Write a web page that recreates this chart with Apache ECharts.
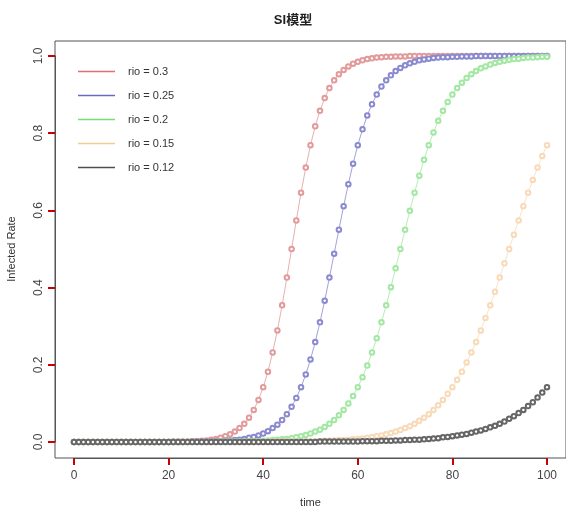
<!DOCTYPE html>
<html>
<head>
<meta charset="utf-8">
<script src="https://cdn.jsdelivr.net/npm/echarts@6/dist/echarts.min.js"></script>
<style>
  html, body { margin: 0; padding: 0; background: #fff; }
  #chart { width: 566px; height: 506px; }
</style>
</head>
<body>
<div id="chart"></div>
<script>
// time steps
const time = [
  0, 1, 2, 3, 4, 5, 6, 7, 8, 9, 10, 11, 12, 13, 14, 15, 16, 17, 18, 19,
  20, 21, 22, 23, 24, 25, 26, 27, 28, 29, 30, 31, 32, 33, 34, 35, 36, 37, 38, 39,
  40, 41, 42, 43, 44, 45, 46, 47, 48, 49, 50, 51, 52, 53, 54, 55, 56, 57, 58, 59,
  60, 61, 62, 63, 64, 65, 66, 67, 68, 69, 70, 71, 72, 73, 74, 75, 76, 77, 78, 79,
  80, 81, 82, 83, 84, 85, 86, 87, 88, 89, 90, 91, 92, 93, 94, 95, 96, 97, 98, 99,
  100
];

// rio = 0.3
const rio30 = [
  0, 0, 0, 0, 0, 0, 0, 0, 0, 0, 0, 0, 0, 0, 0, 0, 0, 0, 0, 0,
  0, 0.001, 0.001, 0.001, 0.001, 0.002, 0.002, 0.003, 0.004, 0.006,
  0.008, 0.011, 0.015, 0.020, 0.027, 0.036, 0.047, 0.063, 0.083, 0.109,
  0.142, 0.182, 0.232, 0.289, 0.354, 0.426, 0.500, 0.574, 0.646, 0.711,
  0.769, 0.818, 0.858, 0.891, 0.917, 0.937, 0.953, 0.964, 0.973, 0.980,
  0.985, 0.989, 0.992, 0.994, 0.996, 0.997, 0.998, 0.998, 0.999, 0.999,
  0.999, 1, 1, 1, 1, 1, 1, 1, 1, 1,
  1, 1, 1, 1, 1, 1, 1, 1, 1, 1,
  1, 1, 1, 1, 1, 1, 1, 1, 1, 1,
  1
];

// rio = 0.25
const rio25 = [
  0, 0, 0, 0, 0, 0, 0, 0, 0, 0, 0, 0, 0, 0, 0, 0, 0, 0, 0, 0,
  0, 0, 0, 0, 0, 0.001, 0.001, 0.001, 0.001, 0.001,
  0.002, 0.002, 0.003, 0.004, 0.005, 0.006, 0.008, 0.011, 0.013, 0.017,
  0.022, 0.028, 0.036, 0.045, 0.057, 0.072, 0.091, 0.114, 0.142, 0.175,
  0.214, 0.259, 0.310, 0.366, 0.426, 0.488, 0.550, 0.611, 0.668, 0.721,
  0.769, 0.810, 0.846, 0.875, 0.900, 0.921, 0.937, 0.950, 0.961, 0.969,
  0.976, 0.981, 0.985, 0.989, 0.991, 0.993, 0.995, 0.996, 0.997, 0.997,
  0.998, 0.998, 0.999, 0.999, 0.999, 1, 1, 1, 1, 1,
  1, 1, 1, 1, 1, 1, 1, 1, 1, 1,
  1
];

// rio = 0.2
const rio20 = [
  0, 0, 0, 0, 0, 0, 0, 0, 0, 0, 0, 0, 0, 0, 0, 0, 0, 0, 0, 0,
  0, 0, 0, 0, 0, 0, 0, 0, 0, 0,
  0, 0.001, 0.001, 0.001, 0.001, 0.001, 0.001, 0.002, 0.002, 0.002,
  0.003, 0.004, 0.005, 0.006, 0.007, 0.008, 0.010, 0.012, 0.015, 0.018,
  0.022, 0.027, 0.032, 0.039, 0.047, 0.057, 0.069, 0.083, 0.100, 0.119,
  0.142, 0.168, 0.198, 0.232, 0.269, 0.310, 0.354, 0.401, 0.450, 0.500,
  0.550, 0.599, 0.646, 0.690, 0.731, 0.769, 0.802, 0.832, 0.858, 0.881,
  0.900, 0.917, 0.931, 0.943, 0.953, 0.961, 0.968, 0.973, 0.978, 0.982,
  0.985, 0.988, 0.990, 0.992, 0.993, 0.995, 0.996, 0.996, 0.997, 0.998,
  0.998
];

// rio = 0.15
const rio15 = [
  0, 0, 0, 0, 0, 0, 0, 0, 0, 0, 0, 0, 0, 0, 0, 0, 0, 0, 0, 0,
  0, 0, 0, 0, 0, 0, 0, 0, 0, 0, 0, 0, 0, 0, 0, 0, 0, 0, 0, 0,
  0, 0.001, 0.001, 0.001, 0.001, 0.001, 0.001, 0.001, 0.001, 0.002,
  0.002, 0.002, 0.002, 0.003, 0.003, 0.004, 0.005, 0.005, 0.006, 0.007,
  0.008, 0.009, 0.011, 0.013, 0.015, 0.017, 0.020, 0.023, 0.027, 0.031,
  0.036, 0.041, 0.047, 0.055, 0.063, 0.072, 0.083, 0.095, 0.109, 0.125,
  0.142, 0.161, 0.182, 0.206, 0.232, 0.259, 0.289, 0.321, 0.354, 0.389,
  0.426, 0.463, 0.500, 0.537, 0.574, 0.611, 0.646, 0.679, 0.711, 0.741,
  0.769
];

// rio = 0.12
const rio12 = [
  0, 0, 0, 0, 0, 0, 0, 0, 0, 0, 0, 0, 0, 0, 0, 0, 0, 0, 0, 0,
  0, 0, 0, 0, 0, 0, 0, 0, 0, 0, 0, 0, 0, 0, 0, 0, 0, 0, 0, 0,
  0, 0, 0, 0, 0, 0, 0, 0, 0, 0, 0, 0,
  0.001, 0.001, 0.001, 0.001, 0.001, 0.001, 0.001, 0.001,
  0.001, 0.002, 0.002, 0.002, 0.002, 0.003, 0.003, 0.003, 0.004, 0.004,
  0.005, 0.005, 0.006, 0.006, 0.007, 0.008, 0.009, 0.010, 0.012, 0.013,
  0.015, 0.017, 0.019, 0.021, 0.024, 0.027, 0.030, 0.034, 0.038, 0.042,
  0.047, 0.053, 0.060, 0.067, 0.075, 0.083, 0.093, 0.103, 0.115, 0.128,
  0.142
];

const seriesNames = ['rio = 0.3', 'rio = 0.25', 'rio = 0.2', 'rio = 0.15', 'rio = 0.12'];
const seriesData = [rio30, rio25, rio20, rio15, rio12];
const colors = ['#e29a9a', '#8a8ad0', '#a2e8a2', '#f8dab8', '#666666'];
const legendColors = ['#e07070', '#6a6ac4', '#78dc78', '#f2cc94', '#505050'];

const font = '"Liberation Sans", Arial, "Noto Sans CJK SC", sans-serif';

const myChart = echarts.init(document.getElementById('chart'));

const series = seriesNames.map((name, i) => ({
  name: name,
  type: 'line',
  xAxisIndex: 1,
  yAxisIndex: 1,
  clip: false,
  data: time.map((t, j) => [t, seriesData[i][j]]),
  symbol: 'emptyCircle',
  symbolSize: 4.5,
  showSymbol: true,
  lineStyle: { width: 0.8, color: colors[i] },
  itemStyle: { color: colors[i], borderWidth: 0.7 },
  emphasis: { disabled: true },
}));

myChart.setOption({
  animation: false,
  color: colors,
  textStyle: { fontFamily: font },
  title: {
    text: 'SI模型',
    left: 288,
    top: 9,
    textAlign: 'center',
    textStyle: { fontSize: 13, fontWeight: 'bold', color: '#222', fontFamily: font },
  },
  legend: {
    orient: 'vertical',
    left: 73,
    top: 61,
    icon: 'rect',
    itemWidth: 37,
    itemHeight: 1.5,
    itemGap: 13,
    data: seriesNames.map((n, i) => ({
      name: n,
      itemStyle: { color: legendColors[i], borderWidth: 0 },
    })),
    textStyle: { fontSize: 11, color: '#333', padding: [0, 0, 0, 8], fontFamily: font },
  },
  // grid 0: the plot box only; grid 1: the data range 0..100 / 0..1
  grid: [
    {
      left: 55,
      right: 0,
      top: 41,
      bottom: 48,
      show: true,
      borderColor: '#555',
      borderWidth: 1,
      containLabel: false,
      outerBoundsMode: 'none',
    },
    {
      left: 74,
      right: 19,
      top: 56,
      bottom: 64,
      show: false,
      containLabel: false,
      outerBoundsMode: 'none',
    },
  ],
  xAxis: [
    { type: 'value', gridIndex: 0, min: -4, max: 104, show: false },
    {
      type: 'value',
      gridIndex: 1,
      min: 0,
      max: 100,
      interval: 20,
      offset: 16,
      name: 'time',
      nameLocation: 'middle',
      nameGap: 39,
      nameTextStyle: { fontSize: 11, color: '#333' },
      axisLine: { show: true, onZero: false, lineStyle: { color: '#555', width: 1 } },
      splitLine: { show: false },
      axisTick: { show: true, inside: false, length: 7, lineStyle: { color: '#c00', width: 2 } },
      axisLabel: { fontSize: 12, color: '#444', margin: 12 },
    },
  ],
  yAxis: [
    { type: 'value', gridIndex: 0, min: -0.04, max: 1.04, show: false },
    {
      type: 'value',
      gridIndex: 1,
      min: 0,
      max: 1,
      interval: 0.2,
      offset: 19,
      name: 'Infected Rate',
      nameLocation: 'middle',
      nameRotate: 90,
      nameGap: 38,
      nameTextStyle: { fontSize: 11, color: '#333' },
      axisLine: { show: true, onZero: false, lineStyle: { color: '#555', width: 1 } },
      splitLine: { show: false },
      axisTick: { show: true, inside: false, length: 7, lineStyle: { color: '#c00', width: 2 } },
      axisLabel: {
        rotate: 90,
        fontSize: 12,
        color: '#444',
        margin: 10,
        formatter: (v) => v.toFixed(1),
      },
    },
  ],
  series: series,
});
</script>
</body>
</html>
